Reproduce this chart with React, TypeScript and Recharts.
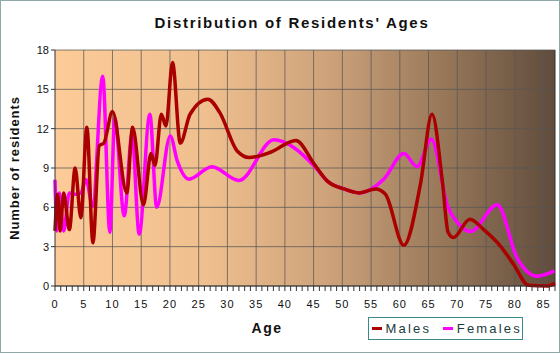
import React from "react";
import {
  LineChart,
  Line,
  XAxis,
  YAxis,
  CartesianGrid,
  ReferenceLine,
} from "recharts";

// ages / values
const maleAges = [
  0, 0.45, 0.9, 1.5, 2.5, 3.5, 4.5, 5.55, 6.6, 7.7, 8.5, 10, 12.5, 13.5, 15.4,
  16.7, 17.4, 18.5, 19.3, 20.45, 21.8, 23.5, 26.6, 28.7, 31.7, 33.8, 37.5, 41.9,
  45.1, 47.4, 50.3, 52.9, 55.8, 57.5, 60.7, 63.6, 65.6, 67.4, 68.4, 69.3, 72.2,
  74.6, 77.5, 79.8, 82.4, 85.6, 87,
];
const maleValues = [
  4.2, 7.0, 4.2, 7.1, 4.3, 9.0, 5.2, 12.1, 3.3, 10.7, 10.9, 13.3, 7.1, 12.1, 6.2,
  10.1, 9.2, 13.1, 12.2, 17.05, 10.9, 13.1, 14.25, 13.2, 10.3, 9.8, 10.2, 11.1,
  9.3, 8.0, 7.4, 7.1, 7.4, 7.0, 3.1, 7.8, 13.1, 8.0, 4.1, 3.7, 5.1, 4.3, 3.05,
  1.65, 0.05, 0, 0.2,
];

const femaleAges = [
  0, 0.35, 0.75, 1.5, 2.5, 3.6, 4.5, 5.4, 6.55, 8.3, 9.55, 10.4, 12.05, 13.4,
  14.65, 16.5, 17.7, 20.05, 21.3, 23.3, 27.3, 32, 38.1, 41.6, 45.1, 47.4, 50.3,
  52.9, 57.2, 60.7, 63, 65.5, 68.3, 70, 72.3, 76.95, 80.4, 83.9, 86.9,
];
const femaleValues = [
  8.1, 4.2, 7.1, 4.2, 7.1, 7.0, 7.1, 8.1, 6.1, 16.0, 4.1, 12.8, 5.35, 11.6,
  3.95, 13.1, 6.0, 11.45, 9.5, 8.15, 9.1, 8.05, 11.15, 10.55, 9.15, 8.0, 7.4,
  7.1, 8.15, 10.1, 9.1, 11.2, 6.1, 4.85, 4.15, 6.2, 2.15, 0.75, 1.15,
];

const xTicks = Array.from({ length: 88 }, (_, i) => i);
const xMajor = [5, 10, 15, 20, 25, 30, 35, 40, 45, 50, 55, 60, 65, 70, 75, 80, 85];
const yTicks = [0, 3, 6, 9, 12, 15, 18];

const males = maleAges.map((age, i) => ({ age, v: maleValues[i] }));
const females = femaleAges.map((age, i) => ({ age, v: femaleValues[i] }));

const font = "'Liberation Sans', Arial, sans-serif";

function AgeTick(props: any) {
  const { x, y, payload } = props;
  const major = payload.value % 5 === 0;
  return (
    <g>
      <line x1={x} y1={y - 8} x2={x} y2={y - 3} stroke="#333" />
      {major && (
        <text
          x={x}
          y={y + 14}
          textAnchor="middle"
          fontSize={11}
          fontFamily={font}
          fill="#111"
          letterSpacing={1}
        >
          {payload.value}
        </text>
      )}
    </g>
  );
}

export default function App() {
  return (
    <div
      style={{
        position: "absolute",
        left: 0,
        top: 0,
        width: 560,
        height: 353,
        background: "#fff",
        boxSizing: "border-box",
        border: "1px solid #8fa9a9",
        fontFamily: font,
      }}
    >
      <div
        style={{
          position: "absolute",
          left: 0,
          width: 560,
          top: 13,
          textAlign: "center",
          fontSize: 15,
          fontWeight: "bold",
          letterSpacing: 1.7,
          color: "#111",
          paddingLeft: 22,
          boxSizing: "border-box",
        }}
      >
        Distribution of Residents' Ages
      </div>
      <div
        style={{
          position: "absolute",
          left: 13,
          top: 167,
          transform: "translate(-50%, -50%) rotate(-90deg)",
          whiteSpace: "nowrap",
          fontSize: 13,
          fontWeight: "bold",
          letterSpacing: 0.9,
          color: "#111",
        }}
      >
        Number of residents
      </div>
      <div
        style={{
          position: "absolute",
          left: 266,
          top: 327,
          transform: "translate(-50%, -50%)",
          fontSize: 14,
          fontWeight: "bold",
          letterSpacing: 1.5,
          color: "#111",
        }}
      >
        Age
      </div>
      <div
        style={{
          position: "absolute",
          left: 367,
          top: 316,
          width: 155,
          height: 23,
          boxSizing: "border-box",
          border: "1px solid #3a8c8c",
          display: "flex",
          alignItems: "center",
          fontSize: 13,
          letterSpacing: 2.2,
          color: "#1a3b3b",
        }}
      >
        <span style={{ display: "inline-block", width: 13, height: 3, background: "#aa0000", marginLeft: 3, marginRight: 4 }} />
        <span>Males</span>
        <span style={{ display: "inline-block", width: 13, height: 3, background: "#ff00ff", marginLeft: 12, marginRight: 4 }} />
        <span>Females</span>
      </div>
      <div style={{ position: "absolute", left: 0, top: 0 }}>
        <LineChart
          width={560}
          height={353}
          margin={{ top: 49, right: 6, left: 14, bottom: 38 }}
        >
          <defs>
            <linearGradient id="bg" x1="0" y1="0" x2="1" y2="0">
              <stop offset="0%" stopColor="#fccb98" />
              <stop offset="30%" stopColor="#efbf8e" />
              <stop offset="55%" stopColor="#cda27a" />
              <stop offset="78%" stopColor="#977759" />
              <stop offset="100%" stopColor="#5f4c3c" />
            </linearGradient>
          </defs>
          <CartesianGrid
            fill="url(#bg)"
            fillOpacity={1}
            stroke="#555"
            strokeOpacity={0.75}
            vertical={false}
          />
          {xMajor.map((t) => (
            <ReferenceLine key={t} x={t} stroke="#555" strokeOpacity={0.75} />
          ))}
          <ReferenceLine x={87} stroke="#333" />
          <XAxis
            dataKey="age"
            type="number"
            domain={[0, 87]}
            ticks={xTicks}
            interval={0}
            allowDuplicatedCategory={false}
            height={30}
            axisLine={{ stroke: "#333" }}
            tickLine={false}
            tick={<AgeTick />}
          />
          <YAxis
            type="number"
            domain={[0, 18]}
            ticks={yTicks}
            interval={0}
            width={40}
            axisLine={{ stroke: "#333" }}
            tickLine={{ stroke: "#333" }}
            tickSize={4}
            tick={{ fontSize: 11, fill: "#111", fontFamily: font }}
          />
          <Line
            data={females}
            dataKey="v"
            type="monotone"
            stroke="#ff00ff"
            strokeWidth={3.5}
            dot={false}
            isAnimationActive={false}
          />
          <Line
            data={males}
            dataKey="v"
            type="monotone"
            stroke="#aa0000"
            strokeWidth={3.5}
            dot={false}
            isAnimationActive={false}
          />
        </LineChart>
      </div>
    </div>
  );
}
